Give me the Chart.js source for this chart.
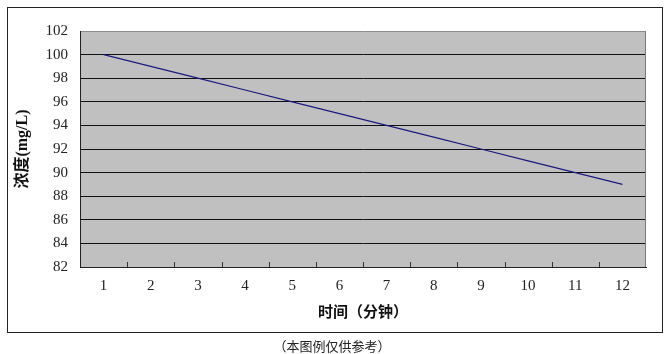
<!DOCTYPE html>
<html>
<head>
<meta charset="utf-8">
<script src="https://cdn.jsdelivr.net/npm/chart.js@4/dist/chart.umd.min.js"></script>
<style>
  html, body { margin:0; padding:0; background:#fff; }
  #wrap { position:relative; width:671px; height:354px; overflow:hidden; }
  #frame { position:absolute; left:7px; top:7px; width:654px; height:324px; border:1px solid #222; }
  #cv { position:absolute; left:0; top:0; }
  #note { position:absolute; left:0; width:664px; top:336px; text-align:center;
          font:13px "Noto Sans CJK SC", sans-serif; color:#222; }
</style>
</head>
<body>
<div id="wrap">
  <div id="frame"></div>
  <canvas id="cv" width="671" height="354"></canvas>
  <div id="note">（本图例仅供参考）</div>
</div>
<script>
// 时间（分钟）
const minutos = ['1','2','3','4','5','6','7','8','9','10','11','12'];
// 浓度 mg/L
const concentracion = [100, 99, 98, 97, 96, 95, 94, 93, 92, 91, 90, 89];
const yMin = 82, yMax = 102, yPaso = 2;

// fondo gris, borde derecho y marcas pequeñas hacia dentro entre categorías
const plotDeco = {
  id: 'plotDeco',
  beforeDraw(chart) {
    const { ctx, chartArea: a } = chart;
    ctx.save();
    ctx.fillStyle = '#c0c0c0';
    ctx.fillRect(a.left, a.top, a.right - a.left, a.bottom - a.top);
    ctx.restore();
  },
  afterDatasetsDraw(chart) {
    const { ctx, chartArea: a, scales } = chart;
    const x = scales.x;
    ctx.save();
    ctx.lineWidth = 1;
    ctx.strokeStyle = '#7a7a7a';
    ctx.beginPath();
    ctx.moveTo(Math.round(a.right) - 0.5, a.top);
    ctx.lineTo(Math.round(a.right) - 0.5, a.bottom);
    ctx.stroke();
    ctx.strokeStyle = '#333';
    ctx.beginPath();
    for (let i = 1; i < minutos.length; i++) {
      const px = Math.round((x.getPixelForValue(i - 1) + x.getPixelForValue(i)) / 2) + 0.5;
      ctx.moveTo(px, a.bottom);
      ctx.lineTo(px, a.bottom - 5);
    }
    ctx.stroke();
    ctx.restore();
  }
};

new Chart(document.getElementById('cv'), {
  type: 'line',
  data: {
    labels: minutos,
    datasets: [{ data: concentracion, borderColor: '#1a1a80', borderWidth: 1.2, pointRadius: 0, tension: 0 }]
  },
  options: {
    responsive: false,
    animation: false,
    layout: { padding: { left: 0, right: 25, top: 31, bottom: 0 } },
    plugins: { legend: { display: false }, tooltip: { enabled: false } },
    scales: {
      x: {
        offset: true,
        afterFit: s => { s.height = 87; },
        grid: { display: false, drawTicks: false },
        border: { display: true, color: '#222', width: 1 },
        ticks: { padding: 10, color: '#222', font: { family: 'Liberation Serif', size: 15 } },
        title: { display: true, text: '时间（分钟）', color: '#111',
                 font: { family: 'Noto Sans CJK SC', size: 15, weight: 'bold' }, padding: { top: 0, bottom: 34 } }
      },
      y: {
        min: yMin, max: yMax,
        afterFit: s => { s.width = 80; },
        grid: { drawTicks: false, color: ctx => ctx.tick && ctx.tick.value === yMax ? '#8c8c8c' : '#111', lineWidth: 1 },
        border: { display: true, color: '#222', width: 1 },
        ticks: { stepSize: yPaso, padding: 12, color: '#222', font: { family: 'Liberation Serif', size: 15 } },
        title: { display: true, text: '浓度(mg/L)', color: '#111',
                 font: { family: "'Liberation Serif', 'Noto Sans CJK SC'", size: 16, weight: 'bold' }, padding: { top: 13, bottom: 0 } }
      }
    }
  },
  plugins: [plotDeco]
});
</script>
</body>
</html>
